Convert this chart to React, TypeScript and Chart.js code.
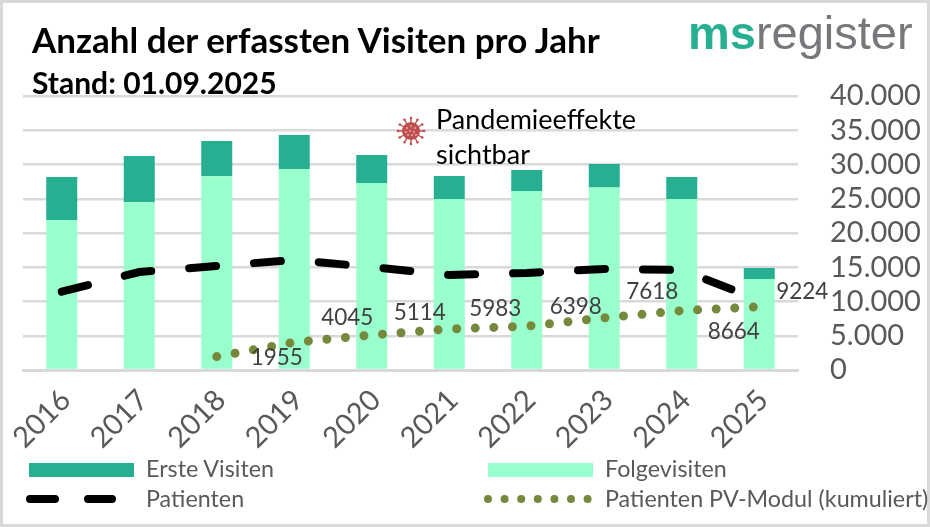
import React, { useEffect, useRef } from 'react';
import Chart from 'chart.js/auto';

const years = ['2016', '2017', '2018', '2019', '2020', '2021', '2022', '2023', '2024', '2025'];
const folgevisiten = [21900, 24500, 28300, 29340, 27300, 24960, 26130, 26640, 24960, 13280];
const ersteVisiten = [6280, 6740, 5130, 4960, 4090, 3360, 3070, 3430, 3220, 1610];
const patienten = [11430, 14300, 15180, 16060, 15040, 13870, 14160, 14745, 14600, 10200];
const pvModul = [null, null, 1955, 4045, 5114, 5983, 6398, 7618, 8664, 9224];

// the labels were moved by hand in the original, offset from their point in px
const pvLabelOffsets = [null, null, [60, 1], [53, -25], [48, -22], [46, -20], [49, -19], [48, -26], [52, 21], [43, -15]];

const TEAL = '#26b091';
const MINT = '#99ffcc';
const OLIVE = '#76883c';
const GREY = '#595959';
const GRID = '#d9d9d9';
const FONT = 'Lato, sans-serif';

const pvLabelsPlugin = {
  id: 'pvLabels',
  afterDatasetsDraw(chart: Chart) {
    const { ctx, scales } = chart;
    ctx.save();
    ctx.font = `22.5px ${FONT}`;
    ctx.fillStyle = '#404040';
    ctx.textAlign = 'center';
    ctx.textBaseline = 'middle';
    pvModul.forEach((value, i) => {
      const offset = pvLabelOffsets[i];
      if (value === null || !offset) return;
      ctx.fillText(String(value), scales.x.getPixelForValue(i) + offset[0], scales.y.getPixelForValue(value) + offset[1]);
    });
    ctx.restore();
  },
};

const textStyle = (left: number, top: number, size: number, extra: React.CSSProperties = {}): React.CSSProperties => ({
  position: 'absolute',
  left,
  top,
  fontSize: size,
  lineHeight: 1,
  whiteSpace: 'nowrap',
  fontFamily: FONT,
  ...extra,
});

const Virus = () => (
  <svg style={{ position: 'absolute', left: 396, top: 116 }} width={30} height={30} viewBox="-15 -15 30 30">
    {Array.from({ length: 12 }, (_, i) => (
      <g key={i} transform={`rotate(${i * 30})`}>
        <line x1={0} y1={-8} x2={0} y2={-13} stroke="#c0504d" strokeWidth={1.4} />
        <circle cx={0} cy={-13} r={1.3} fill="#c0504d" />
      </g>
    ))}
    <circle r={9} fill="#c0504d" />
    {[[-4, -3], [0, -5], [4, -3], [-5, 1], [-1, 0], [3, 1], [-3, 4], [1, 4], [5, 4]].map(([cx, cy], i) => (
      <circle key={i} cx={cx} cy={cy} r={0.9} fill="#e8b4b2" />
    ))}
  </svg>
);

export default function App() {
  const chartRef = useRef<HTMLCanvasElement>(null);

  useEffect(() => {
    document.body.style.margin = '0';
    if (!chartRef.current) return;
    const chart = new Chart(chartRef.current, {
      type: 'bar',
      data: {
        labels: years,
        datasets: [
          {
            type: 'line',
            label: 'Patienten PV-Modul (kumuliert)',
            data: pvModul,
            stack: 'pv',
            order: 0,
            borderColor: OLIVE,
            borderWidth: 9,
            borderCapStyle: 'round',
            borderDash: [0, 18.6],
            pointRadius: 0,
            tension: 0,
          },
          {
            type: 'line',
            label: 'Patienten',
            data: patienten,
            stack: 'patienten',
            order: 1,
            borderColor: '#000000',
            borderWidth: 8,
            borderCapStyle: 'round',
            borderDash: [27, 38],
            pointRadius: 0,
            tension: 0,
          },
          { label: 'Folgevisiten', data: folgevisiten, stack: 'visiten', order: 2, backgroundColor: MINT },
          { label: 'Erste Visiten', data: ersteVisiten, stack: 'visiten', order: 3, backgroundColor: TEAL },
        ],
      } as any,
      options: {
        animation: false,
        responsive: true,
        maintainAspectRatio: false,
        layout: { padding: { left: 23, top: 96, right: 0, bottom: 0 } },
        datasets: { bar: { barPercentage: 0.4, categoryPercentage: 1 } },
        plugins: { legend: { display: false }, title: { display: false }, tooltip: { enabled: false } },
        scales: {
          x: {
            stacked: true,
            afterFit: (scale: any) => { scale.height = 157; },
            grid: { display: false },
            border: { color: GRID, width: 3 },
            ticks: { color: GREY, font: { family: FONT, size: 29 }, minRotation: 45, maxRotation: 45, padding: 5, labelOffset: 4 },
          },
          y: {
            position: 'right',
            stacked: true,
            min: 0,
            max: 40000,
            afterFit: (scale: any) => { scale.width = 132; },
            grid: { color: GRID, lineWidth: 2.5, drawTicks: false },
            border: { display: false },
            ticks: {
              stepSize: 5000,
              autoSkip: false,
              padding: 32,
              color: GREY,
              font: { family: FONT, size: 29 },
              callback: (value: any) => String(value).replace(/\B(?=(\d{3})+$)/g, '.'),
            },
          },
        },
      },
      plugins: [pvLabelsPlugin],
    });
    return () => chart.destroy();
  }, []);

  return (
    <div style={{ position: 'absolute', left: 0, top: 0, width: 930, height: 527, overflow: 'hidden', background: '#fff' }}>
      <div style={{ position: 'absolute', inset: 0 }}>
        <canvas ref={chartRef}></canvas>
      </div>
      <div style={{ position: 'absolute', inset: 0, border: `3px solid ${GRID}`, boxSizing: 'border-box', pointerEvents: 'none' }} />

      <div style={textStyle(32, 22, 35, { fontWeight: 700, color: '#000' })}>Anzahl der erfassten Visiten pro Jahr</div>
      <div style={textStyle(32, 67, 30, { fontWeight: 700, color: '#000' })}>Stand: 01.09.2025</div>

      <div style={textStyle(688, 9, 47, { fontFamily: 'Liberation Sans', color: '#76787b' })}>
        <span style={{ color: TEAL, fontWeight: 700 }}>ms</span>register
      </div>

      <Virus />
      <div style={textStyle(436, 105, 27, { color: '#000' })}>Pandemieeffekte</div>
      <div style={textStyle(436, 140, 27, { color: '#000' })}>sichtbar</div>

      <div style={{ position: 'absolute', left: 29, top: 463, width: 105, height: 14, background: TEAL }} />
      <div style={textStyle(146, 457, 23.3, { color: GREY })}>Erste Visiten</div>
      <svg style={{ position: 'absolute', left: 20, top: 490 }} width={105} height={18}>
        <line x1={10} y1={9} x2={92} y2={9} stroke="#000" strokeWidth={8} strokeLinecap="round" strokeDasharray="25 33" />
      </svg>
      <div style={textStyle(146, 487, 23.3, { color: GREY })}>Patienten</div>

      <div style={{ position: 'absolute', left: 488, top: 463, width: 105, height: 14, background: MINT }} />
      <div style={textStyle(605, 457, 23.3, { color: GREY })}>Folgevisiten</div>
      <svg style={{ position: 'absolute', left: 480, top: 490 }} width={120} height={18}>
        <line x1={8} y1={9} x2={112} y2={9} stroke={OLIVE} strokeWidth={8} strokeLinecap="round" strokeDasharray="0 16.6" />
      </svg>
      <div style={textStyle(605, 487, 23.3, { color: GREY })}>Patienten PV-Modul (kumuliert)</div>
    </div>
  );
}
